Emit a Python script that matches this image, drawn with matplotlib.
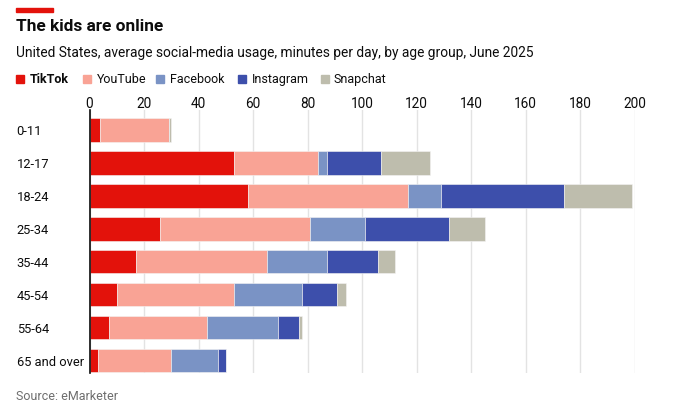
import matplotlib
matplotlib.use("Agg")
import matplotlib.pyplot as plt
from matplotlib.patches import Rectangle
import numpy as np

W, H = 675, 413

age_groups = ["0-11", "12-17", "18-24", "25-34", "35-44", "45-54", "55-64", "65 and over"]
platforms = ["TikTok", "YouTube", "Facebook", "Instagram", "Snapchat"]
tiktok = [4, 53, 58, 26, 17, 10, 7, 3]
youtube = [25, 31, 59, 55, 48, 43, 36, 27]
facebook = [0, 3, 12, 20, 22, 25, 26, 17]
instagram = [0, 20, 45, 31, 19, 13, 8, 3]
snapchat = [1, 18, 25, 13, 6, 3, 1, 0]
colors = ["#E3120B", "#F9A395", "#7A93C5", "#3D4FAB", "#BEBDAD"]
xticks = [0, 20, 40, 60, 80, 100, 120, 140, 160, 180, 200]

plt.rcParams['font.family'] = ["Roboto", "DejaVu Sans"]

fig = plt.figure(figsize=(W / 100, H / 100), dpi=100)


def fx(px):
    return px / W


def fy(py):
    return 1 - py / H


ax_left, ax_right, ax_top, ax_bot = 89.5, 634.5, 110, 372.5
ax = fig.add_axes([fx(ax_left), fy(ax_bot), fx(ax_right - ax_left), (ax_bot - ax_top) / H])

series = [tiktok, youtube, facebook, instagram, snapchat]
y = np.arange(len(age_groups))
left = np.zeros(len(age_groups))
for vals, c in zip(series, colors):
    v = np.array(vals, dtype=float)
    ax.barh(y, v, left=left, height=0.72, color=c, edgecolor="#F4F4F4", linewidth=0.4, zorder=3)
    left += v

ax.set_xlim(0, 200)
ax.set_ylim(7.364, -0.6)
ax.set_xticks(xticks)
ax.xaxis.tick_top()
ax.tick_params(axis="x", length=0, labelsize=9.8, pad=-1.0, colors="#0C0C0C")
ax.set_yticks(y)
ax.set_yticklabels(age_groups)
ax.tick_params(axis="y", length=0, labelsize=9.3, colors="#0C0C0C", pad=(ax_left - 16.7) * 0.72)
for lab in ax.get_yticklabels():
    lab.set_horizontalalignment("left")
ax.grid(axis="x", color="#E3E3E3", linewidth=1, zorder=0)
for s in ["top", "right", "bottom"]:
    ax.spines[s].set_visible(False)
ax.spines["left"].set_color("#0C0C0C")
ax.spines["left"].set_linewidth(1.2)
ax.spines["left"].set_zorder(5)

# red bar top-left
fig.patches.append(Rectangle((fx(16), fy(12)), fx(37), 4 / H, transform=fig.transFigure,
                             color="#E3120B", zorder=5))

fig.text(fx(16), fy(26.5), "The kids are online", fontsize=12.4, fontweight="bold",
         va="center", ha="left", color="#0C0C0C")
fig.text(fx(16), fy(53), "United States, average social-media usage, minutes per day, by age group, June 2025",
         fontsize=9.9, va="center", ha="left", color="#0C0C0C")

# legend
leg_sq_x = [16, 83, 156, 238, 321]
leg_txt_x = [30, 97, 170, 251.5, 334]
for name, c, sx, tx in zip(platforms, colors, leg_sq_x, leg_txt_x):
    fig.patches.append(Rectangle((fx(sx), fy(83)), fx(8), 8 / H, transform=fig.transFigure,
                                 color=c, zorder=5))
    fig.text(fx(tx), fy(79.5), name, fontsize=9.0, va="center", ha="left", color="#0C0C0C",
             fontweight="bold" if name == "TikTok" else "normal")

fig.text(fx(16), fy(397), "Source: eMarketer", fontsize=9, va="center", ha="left", color="#6E6E6E")

fig.savefig("out.png", dpi=100)
